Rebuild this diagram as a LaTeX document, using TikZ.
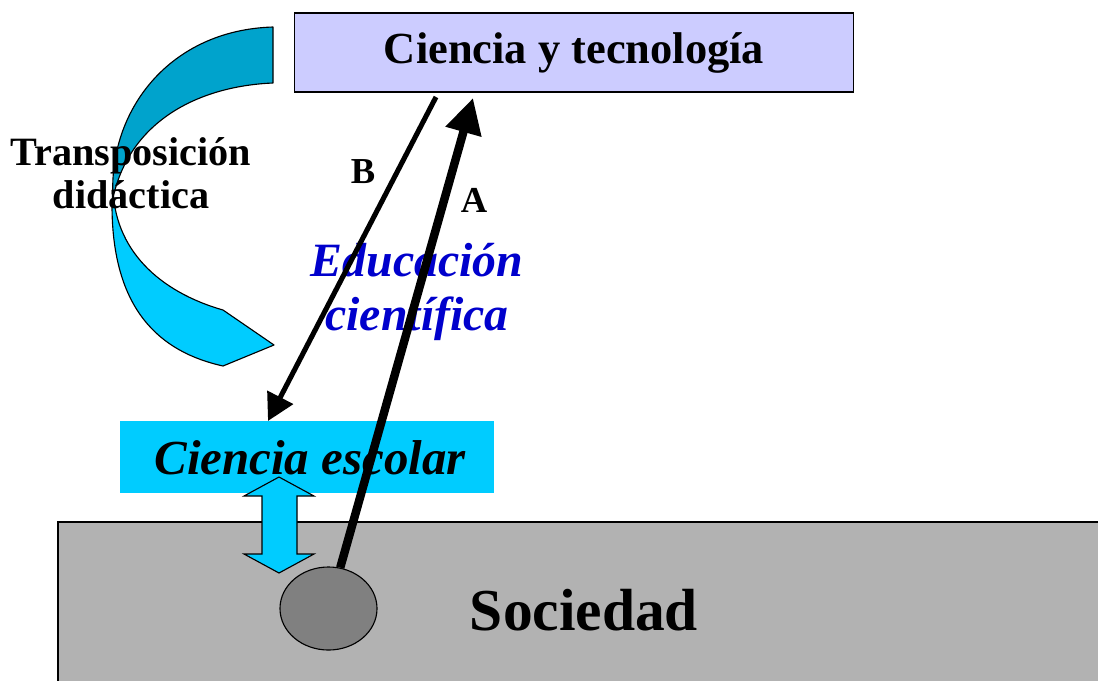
\documentclass[tikz,border=0pt]{standalone}
\usepackage{fontspec}
\setmainfont{Liberation Serif}
\usetikzlibrary{arrows.meta, shapes.geometric}

\definecolor{lila}{RGB}{204,204,255}
\definecolor{celeste}{RGB}{0,204,255}
\definecolor{petroleo}{RGB}{0,163,204}
\definecolor{grisclaro}{RGB}{178,178,178}
\definecolor{grisoscuro}{RGB}{128,128,128}
\definecolor{azul}{RGB}{0,0,204}

\tikzset{
    caja/.style={draw, fill=lila, line width=0.8pt, minimum width=13.95cm, minimum height=1.975cm, inner sep=0pt},
    texto/.style={font=\bfseries\fontsize{26}{31}\selectfont, align=center},
    flecha/.style={-{Triangle[length=25pt, width=25pt]}, line width=6pt},
}

\begin{document}
\begin{tikzpicture}[x=0.025cm, y=-0.025cm]
    \useasboundingbox (0,0) rectangle (1098,680);
    \clip (0,0) rectangle (1098,680);

    \draw[fill=grisclaro, line width=0.8pt] (58,522) rectangle (1120,700); % Sociedad
    \node[texto, font=\bfseries\fontsize{42.3}{50}\selectfont] (sociedad) at (584,610) {Sociedad};

    \node[caja] (ciencia) at (574,52.5) {};
    \node[texto, font=\bfseries\fontsize{31.6}{37}\selectfont] at (ciencia) {Ciencia y tecnología};

    \node[fill=celeste, minimum width=9.35cm, minimum height=1.8cm, inner sep=0pt] (escolar) at (307,457) {};
    \node[font=\bfseries\itshape\fontsize{34.8}{40}\selectfont] at (310,458) {Ciencia escolar};

    \node[draw, fill=grisoscuro, ellipse, line width=0.8pt, minimum width=2.425cm, minimum height=2.075cm, inner sep=0pt] (soc) at (328.5,608.5) {};

    % cinta curva
    \draw[fill=celeste, line width=0.8pt, line join=round] (113,185) .. controls (113,250) and (160,292) .. (223,310) -- (274,345) -- (223,366)
        .. controls (160,352) and (112,310) .. (112,205) -- cycle;
    \draw[fill=petroleo, line width=0.8pt, line join=round] (273,27) -- (273,83) .. controls (200,86) and (130,120) .. (113,198)
        .. controls (108,110) and (170,30) .. (273,27) -- cycle;

    \node[texto, font=\bfseries\fontsize{28.6}{30.5}\selectfont] (transp) at (131,173) {Transposición\\didáctica};
    \node[texto, text=azul, font=\bfseries\itshape\fontsize{34}{39}\selectfont] (educ) at (417,292) {Educación\\científica};

    % doble flecha
    \draw[fill=celeste, line width=0.8pt] (279,477) -- (314,496) -- (297,496) -- (297,554) -- (314,554) -- (279,573)
        -- (244,554) -- (262,554) -- (262,496) -- (244,496) -- cycle;

    \coordinate (atip) at (473,98);
    \coordinate (bini) at (436,97);
    \coordinate (bfin) at (268,421);

    \draw[flecha] (soc.74) -- (atip);
    \draw[flecha, line width=3.6pt, -{Triangle[length=19pt, width=20pt]}] (bini) -- (bfin);

    \node[texto, font=\bfseries\fontsize{26}{30}\selectfont] (labB) at (363,172) {B};
    \node[texto, font=\bfseries\fontsize{26}{30}\selectfont] (labA) at (474,200) {A};
\end{tikzpicture}
\end{document}
